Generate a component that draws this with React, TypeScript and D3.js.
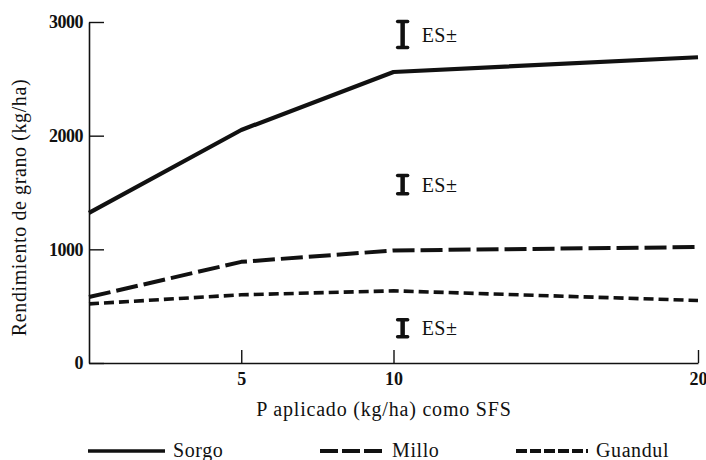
import React, { useEffect, useRef } from "react";
import * as d3 from "d3";

// P aplicado (kg/ha) y rendimiento de grano (kg/ha)
const dosisP = [0, 5, 10, 20];
const sorgo = [1320, 2050, 2560, 2690];
const millo = [580, 890, 990, 1020];
const guandul = [520, 600, 635, 550];

const ticksX = [5, 10, 20];
const ticksY = [0, 1000, 2000, 3000];

// error estándar (centro, semiamplitud) dibujado en P = 10.3
const esCentro = [2890, 1570, 305];
const esSemi = [115, 80, 75];
const esDosis = 10.3;

const series = ["Sorgo", "Millo", "Guandul"];

const FONT = "Liberation Serif, Times New Roman, DejaVu Serif, serif";

export default function App() {
  const svgRef = useRef<SVGSVGElement>(null);

  useEffect(() => {
    if (!svgRef.current) return;
    const svg = d3.select(svgRef.current);
    svg.selectAll("*").remove();

    const width = 706;
    const height = 460;
    const margin = { top: 22, right: 8, bottom: 97, left: 89 };

    const x = d3.scaleLinear().domain([0, 20]).range([margin.left, width - margin.right]);
    const y = d3.scaleLinear().domain([0, 3000]).range([height - margin.bottom, margin.top]);

    const estilos = [
      { data: sorgo, dash: null, w: 4.2 },
      { data: millo, dash: "22,6", w: 4 },
      { data: guandul, dash: "10,5", w: 3.6 },
    ];

    // Eje Y
    const ejeY = svg
      .append("g")
      .attr("transform", `translate(${margin.left},0)`)
      .call(
        d3
          .axisLeft(y)
          .tickValues(ticksY)
          .tickSizeInner(-15)
          .tickSizeOuter(0)
          .tickPadding(6)
          .tickFormat((d) => String(d))
      );
    ejeY.attr("font-family", FONT);
    ejeY.select(".domain").attr("stroke", "#111").attr("stroke-width", 1.6);
    ejeY.selectAll(".tick line").attr("stroke", "#111").attr("stroke-width", 1.4);
    ejeY
      .selectAll(".tick text")
      .attr("font-family", FONT)
      .attr("font-size", 18)
      .attr("font-weight", "bold")
      .attr("letter-spacing", -0.5)
      .attr("fill", "#111");

    // Eje X
    const ejeX = svg
      .append("g")
      .attr("transform", `translate(0,${height - margin.bottom})`)
      .call(
        d3
          .axisBottom(x)
          .tickValues(ticksX)
          .tickSizeInner(-13)
          .tickSizeOuter(0)
          .tickPadding(9)
          .tickFormat((d) => String(d))
      );
    ejeX.attr("font-family", FONT);
    ejeX.select(".domain").attr("stroke", "#111").attr("stroke-width", 1.6);
    ejeX.selectAll(".tick line").attr("stroke", "#111").attr("stroke-width", 1.4);
    ejeX
      .selectAll(".tick text")
      .attr("font-family", FONT)
      .attr("font-size", 18)
      .attr("font-weight", "bold")
      .attr("fill", "#111");

    // Títulos de ejes
    svg
      .append("text")
      .attr("transform", `translate(26,${(margin.top + height - margin.bottom) / 2 + 15}) rotate(-90)`)
      .attr("text-anchor", "middle")
      .attr("font-family", FONT)
      .attr("font-size", 20)
      .attr("letter-spacing", 0.6)
      .attr("fill", "#111")
      .text("Rendimiento de grano (kg/ha)");

    svg
      .append("text")
      .attr("x", 384)
      .attr("y", 416)
      .attr("text-anchor", "middle")
      .attr("font-family", FONT)
      .attr("font-size", 20)
      .attr("letter-spacing", 0.8)
      .attr("fill", "#111")
      .text("P aplicado (kg/ha) como SFS");

    // Líneas
    const linea = d3
      .line<number>()
      .x((_, i) => x(dosisP[i]))
      .y((d) => y(d));

    estilos.forEach((s) => {
      svg
        .append("path")
        .datum(s.data)
        .attr("d", linea)
        .attr("fill", "none")
        .attr("stroke", "#111")
        .attr("stroke-width", s.w)
        .attr("stroke-dasharray", s.dash)
        .attr("stroke-linejoin", "round");
    });

    // Barras de error estándar
    const es = svg
      .append("g")
      .selectAll("g")
      .data(esCentro)
      .enter()
      .append("g");
    es.append("line")
      .attr("x1", x(esDosis))
      .attr("x2", x(esDosis))
      .attr("y1", (d, i) => y(d + esSemi[i]))
      .attr("y2", (d, i) => y(d - esSemi[i]))
      .attr("stroke", "#111")
      .attr("stroke-width", 4.5);
    [1, -1].forEach((sgn) => {
      es.append("line")
        .attr("x1", x(esDosis) - 5)
        .attr("x2", x(esDosis) + 5)
        .attr("y1", (d, i) => y(d + sgn * esSemi[i]))
        .attr("y2", (d, i) => y(d + sgn * esSemi[i]))
        .attr("stroke", "#111")
        .attr("stroke-width", 3.5)
        .attr("stroke-linecap", "round");
    });
    es.append("text")
      .attr("x", x(esDosis) + 19)
      .attr("y", (d) => y(d) + 7)
      .attr("font-family", FONT)
      .attr("font-size", 20)
      .attr("letter-spacing", 0.5)
      .attr("fill", "#111")
      .text("ES±");

    // Leyenda
    const leyenda = [
      { x0: 88, x1: 165, dash: null, w: 3.5 },
      { x0: 320, x1: 384, dash: "18,4", w: 4 },
      { x0: 516, x1: 588, dash: "11,3", w: 4 },
    ];
    leyenda.forEach((l, i) => {
      svg
        .append("line")
        .attr("x1", l.x0)
        .attr("x2", l.x1)
        .attr("y1", 451)
        .attr("y2", 451)
        .attr("stroke", "#111")
        .attr("stroke-width", l.w)
        .attr("stroke-dasharray", l.dash);
      svg
        .append("text")
        .attr("x", l.x1 + 8)
        .attr("y", 457)
        .attr("font-family", FONT)
        .attr("font-size", 20)
        .attr("letter-spacing", 0.6)
        .attr("fill", "#111")
        .text(series[i]);
    });
  }, []);

  return (
    <svg
      ref={svgRef}
      width={706}
      height={460}
      style={{ position: "absolute", left: 0, top: 0, background: "#fff" }}
    />
  );
}
